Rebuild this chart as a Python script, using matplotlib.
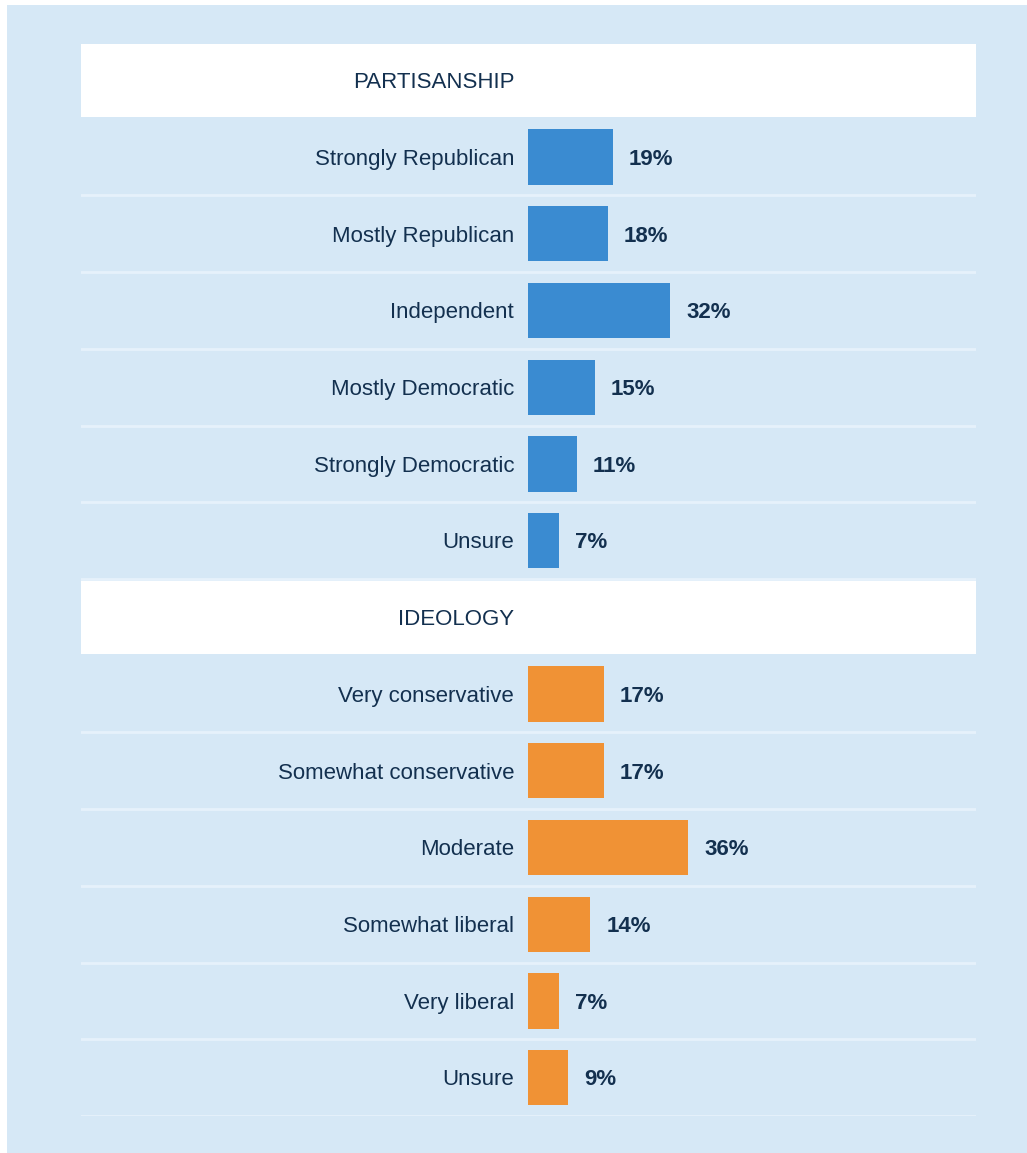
import matplotlib
matplotlib.use("Agg")
import matplotlib.pyplot as plt
from matplotlib.patches import Rectangle
from matplotlib import font_manager

party_labels = ["Strongly Republican", "Mostly Republican", "Independent",
                "Mostly Democratic", "Strongly Democratic", "Unsure"]
party_values = [19, 18, 32, 15, 11, 7]

ideo_labels = ["Very conservative", "Somewhat conservative", "Moderate",
               "Somewhat liberal", "Very liberal", "Unsure"]
ideo_values = [17, 17, 36, 14, 7, 9]

sections = [("PARTISANSHIP", party_labels, party_values, "#3a8bd1"),
            ("IDEOLOGY", ideo_labels, ideo_values, "#f09235")]

names = {f.name for f in font_manager.fontManager.ttflist}
fam = ["Liberation Sans Narrow", "DejaVu Sans"] if "Liberation Sans Narrow" in names else ["Liberation Sans", "DejaVu Sans"]
plt.rcParams['font.family'] = fam

W, H = 1027, 1153
fig = plt.figure(figsize=(W / 100, H / 100), dpi=100)
fig.patch.set_facecolor("white")
fig.add_artist(Rectangle((7 / W, 0), 1 - 7 / W, 1 - 5 / H, transform=fig.transFigure,
                         facecolor="#d6e8f6", edgecolor="none", zorder=-5))

# axes: x in percent, 0 at pixel 528, 4.45 px per percent
left_px, right_px, top_px, bot_px = 81, 976, 42, 1116
ax = fig.add_axes([left_px / W, 1 - bot_px / H, (right_px - left_px) / W, (bot_px - top_px) / H])
ax.set_zorder(2)
ax.set_facecolor("none")
scale = 4.45
ax.set_xlim(-(528 - left_px) / scale, (right_px - 528) / scale)
nrows = 14
ax.set_ylim(nrows - 0.5, -0.5)
ax.axis("off")

text_col = "#13304f"
line_col = "#e6f1fb"
fs = 16
x0, x1 = ax.get_xlim()
row = 0
for title, labels, values, col in sections:
    ax.add_patch(Rectangle((x0, row - 0.48), x1 - x0, 0.96,
                           facecolor="white", edgecolor="none", zorder=1))
    ax.text(-3.1, row + 0.03, title, ha="right", va="center", fontsize=fs, color=text_col, zorder=3)
    row += 1
    for lab, val in zip(labels, values):
        ax.barh(row, val, height=0.72, color=col, zorder=2)
        ax.text(-3.1, row + 0.03, lab, ha="right", va="center", fontsize=fs, color=text_col, zorder=3)
        ax.text(val + 3.6, row + 0.03, f"{val}%", ha="left", va="center", fontsize=fs,
                fontweight="bold", color=text_col, zorder=3)
        ax.axhline(row + 0.5, color=line_col, lw=2, zorder=1)
        row += 1

fig.savefig("out.png", dpi=100)
